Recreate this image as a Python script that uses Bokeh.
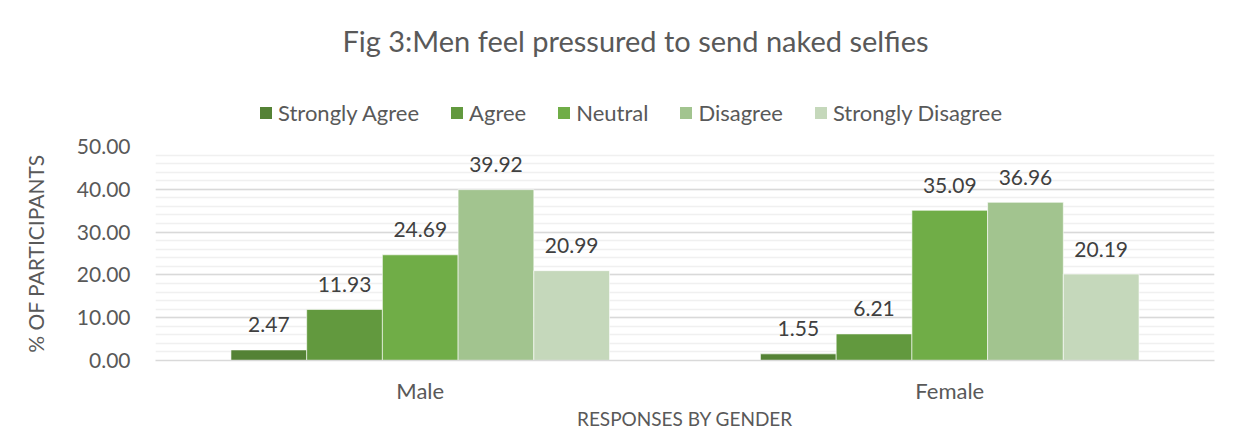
from bokeh.plotting import figure
from bokeh.layouts import column
from bokeh.models import (ColumnDataSource, FactorRange, Range1d, LabelSet, Label,
                          Legend, LegendItem, NumeralTickFormatter, SingleIntervalTicker)
from bokeh.transform import dodge
from bokeh.core.properties import value
from bokeh.embed import file_html
from bokeh.resources import INLINE

# ---- data ----
genders = ["Male", "Female"]
responses = ["Strongly Agree", "Agree", "Neutral", "Disagree", "Strongly Disagree"]
strongly_agree = [2.47, 1.55]
agree = [11.93, 6.21]
neutral = [24.69, 35.09]
disagree = [39.92, 36.96]
strongly_disagree = [20.99, 20.19]
series = [strongly_agree, agree, neutral, disagree, strongly_disagree]
colors = ["#548235", "#62993E", "#70AD47", "#A2C48F", "#C5D8BB"]
y_ticks_interval = 10
title_text = "Fig 3:Men feel pressured to send naked selfies"

FONT = "Lato"
GREY = "#595959"
bar_w = 0.143

sources = [ColumnDataSource(dict(gender=genders, val=vals, lbl=["%.2f" % v for v in vals]))
           for vals in series]

# ---------- header figure: title + legend ----------
top = figure(width=1233, height=130, output_backend="svg", toolbar_location=None,
             title_location=None, x_axis_type=None, y_axis_type=None,
             x_range=FactorRange(*genders, range_padding=0), y_range=Range1d(1000, 1001),
             min_border_left=155, min_border_right=19, min_border_top=0, min_border_bottom=0)
top.outline_line_color = None
top.xgrid.visible = False
top.ygrid.visible = False

top.add_layout(Label(x=480, y=90, x_units="screen", y_units="screen", text=title_text,
                     text_align="center", text_baseline="middle",
                     text_font=FONT, text_font_size="29px", text_color=GREY))

legend_items = []
for i, (name, col, src) in enumerate(zip(responses, colors, sources)):
    off = (i - 2) * bar_w
    # same bars, kept outside this header's visible range: only used as legend keys
    r = top.vbar(x=dodge("gender", off, range=top.x_range), top="val", width=bar_w,
                 source=src, fill_color=col, line_color=None)
    legend_items.append(LegendItem(label=name, renderers=[r]))
legend = Legend(items=legend_items, orientation="horizontal", location=(103, 4),
                glyph_width=15, glyph_height=15, label_standoff=5, spacing=30,
                padding=0, margin=0, border_line_color=None, background_fill_alpha=0,
                label_text_font=FONT, label_text_font_size="22px", label_text_color=GREY)
top.add_layout(legend, "center")

# ---------- main chart ----------
p = figure(width=1233, height=304, output_backend="svg", toolbar_location=None,
           title_location=None,
           x_range=FactorRange(*genders, range_padding=0), y_range=Range1d(0, 50),
           min_border_left=155, min_border_right=19, min_border_top=16, min_border_bottom=74)
p.outline_line_color = None

for i, (name, col, src) in enumerate(zip(responses, colors, sources)):
    off = (i - 2) * bar_w
    p.vbar(x=dodge("gender", off, range=p.x_range), top="val", width=bar_w,
           source=src, fill_color=col, line_color="white", line_width=0.6)
    p.add_layout(LabelSet(x=dodge("gender", off, range=p.x_range), y="val", text="lbl",
                          source=src, y_offset=25, text_align="center", text_baseline="middle",
                          text_font=value(FONT), text_font_size="21px", text_color="#404040"))

p.yaxis.ticker = SingleIntervalTicker(interval=y_ticks_interval, num_minor_ticks=5)
p.yaxis.formatter = NumeralTickFormatter(format="0.00")
p.yaxis.axis_line_color = None
p.yaxis.major_tick_line_color = None
p.yaxis.minor_tick_line_color = None
p.yaxis.major_label_text_font = FONT
p.yaxis.major_label_text_font_size = "21px"
p.yaxis.major_label_text_color = GREY
p.yaxis.major_label_standoff = 19
p.yaxis.axis_label = "% OF PARTICIPANTS"
p.yaxis.axis_label_text_font = FONT
p.yaxis.axis_label_text_font_size = "21px"
p.yaxis.axis_label_text_font_style = "normal"
p.yaxis.axis_label_text_color = GREY
p.yaxis.axis_label_standoff = 26

p.xaxis.axis_line_color = "#d9d9d9"
p.xaxis.axis_line_width = 1.5
p.xaxis.major_tick_line_color = None
p.xaxis.minor_tick_line_color = None
p.xaxis.major_label_text_font = FONT
p.xaxis.major_label_text_font_size = "22px"
p.xaxis.major_label_text_color = GREY
p.xaxis.major_label_standoff = 10
p.xaxis.axis_label = "RESPONSES BY GENDER"
p.xaxis.axis_label_text_font = FONT
p.xaxis.axis_label_text_font_size = "19px"
p.xaxis.axis_label_text_font_style = "normal"
p.xaxis.axis_label_text_color = GREY
p.xaxis.axis_label_standoff = 0

p.xgrid.grid_line_color = None
p.ygrid.grid_line_color = "#d9d9d9"
p.ygrid.grid_line_width = 1.5
p.ygrid.minor_grid_line_color = "#f0f0f0"
p.ygrid.minor_grid_line_width = 1.5

layout = column(top, p, spacing=0)
open("out.html", "w").write(file_html(layout, INLINE))
